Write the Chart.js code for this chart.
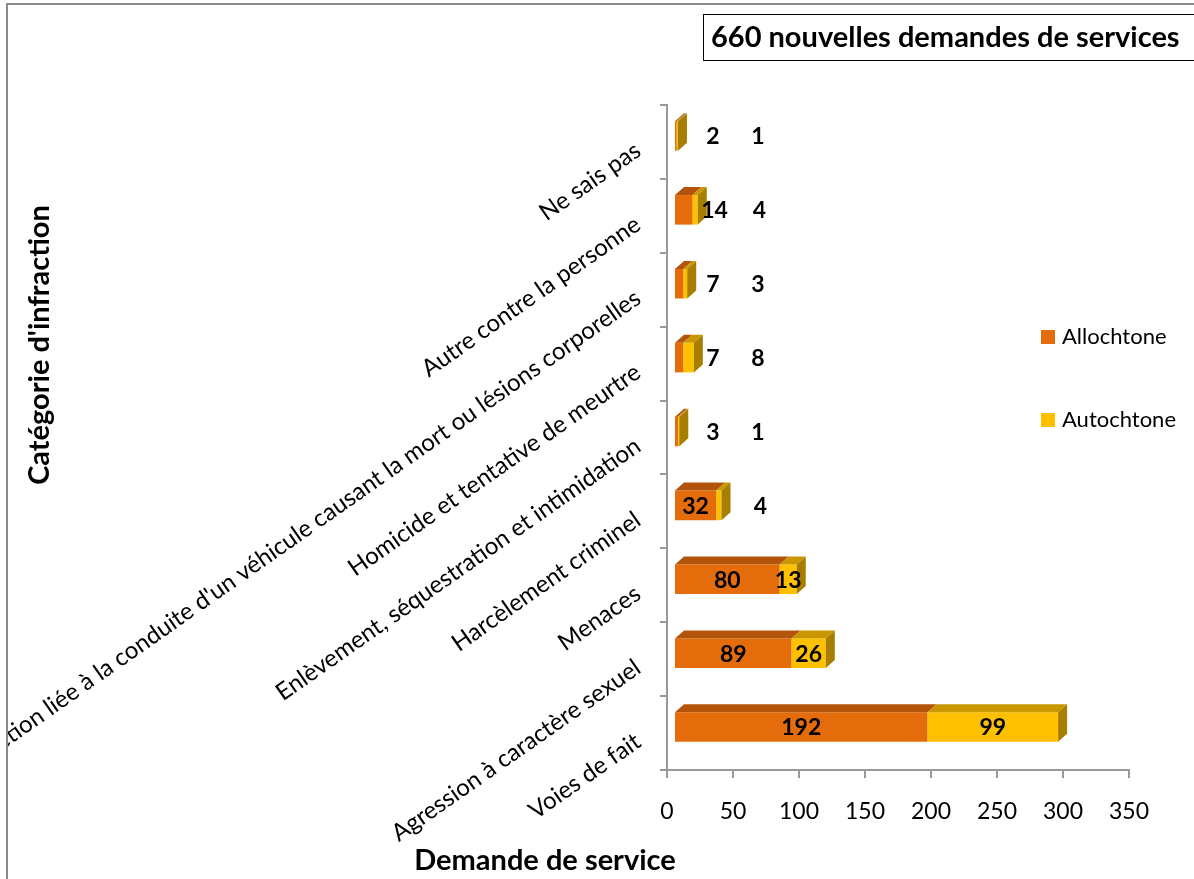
<!DOCTYPE html>
<html>
<head>
<meta charset="utf-8">
<script src="https://cdn.jsdelivr.net/npm/chart.js@4.4.1/dist/chart.umd.min.js"></script>
<style>
  html, body { margin: 0; padding: 0; background: #fff; overflow: hidden; }
  #frame { position: absolute; left: 6px; top: 3px; width: 1300px; height: 1000px; border: 2px solid #8c8c8c; box-sizing: border-box; z-index: 2; pointer-events: none; }
  #wrap { position: absolute; left: 0; top: 0; width: 1194px; height: 879px; clip-path: inset(0 0 0 8px); }
</style>
</head>
<body>
<div id="wrap"><canvas id="chart"></canvas></div>
<div id="frame"></div>
<script>
// categories, top to bottom
const categories = [
  'Ne sais pas',
  'Autre contre la personne',
  "Infraction liée à la conduite d'un véhicule causant la mort ou lésions corporelles",
  'Homicide et tentative de meurtre',
  'Enlèvement, séquestration et intimidation',
  'Harcèlement criminel',
  'Menaces',
  'Agression à caractère sexuel',
  'Voies de fait'
];
const allochtone = [2, 14, 7, 7, 3, 32, 80, 89, 192];
const autochtone = [1, 4, 3, 8, 1, 4, 13, 26, 99];
const seriesNames = ['Allochtone', 'Autochtone'];
const xTicks = [0, 50, 100, 150, 200, 250, 300, 350];
const boxTitle = '660 nouvelles demandes de services';
const yTitle = "Catégorie d'infraction";
const xTitle = 'Demande de service';

const FONT = 'Lato, "Open Sans", sans-serif';
const front = ['#E46C0A', '#FFC000'];
const topFace = ['#B4530A', '#C99700'];
const sideFace = ['#A44E08', '#A77E00'];
const depth = { dx: 9, dy: 8 };
const shift = { x: 7, y: -6 };

// 3D faces + data labels
const bars3d = {
  id: 'bars3d',
  beforeDatasetsDraw(chart) {
    chart.ctx.save();
    chart.ctx.translate(shift.x, shift.y);
  },
  afterDatasetsDraw(chart) {
    const ctx = chart.ctx;
    const metas = [chart.getDatasetMeta(0), chart.getDatasetMeta(1)];
    categories.forEach((c, i) => {
      metas.forEach((m, d) => {
        const el = m.data[i];
        const h = el.height;
        const x0 = Math.min(el.base, el.x), x1 = Math.max(el.base, el.x);
        const yTop = el.y - h / 2, yBot = el.y + h / 2;
        ctx.fillStyle = topFace[d];
        ctx.beginPath();
        ctx.moveTo(x0, yTop);
        ctx.lineTo(x0 + depth.dx, yTop - depth.dy);
        ctx.lineTo(x1 + depth.dx, yTop - depth.dy);
        ctx.lineTo(x1, yTop);
        ctx.closePath();
        ctx.fill();
        if (d === 1) {
          ctx.fillStyle = sideFace[d];
          ctx.beginPath();
          ctx.moveTo(x1, yTop);
          ctx.lineTo(x1 + depth.dx, yTop - depth.dy);
          ctx.lineTo(x1 + depth.dx, yBot - depth.dy);
          ctx.lineTo(x1, yBot);
          ctx.closePath();
          ctx.fill();
        }
      });
    });
    ctx.font = 'bold 23px ' + FONT;
    ctx.fillStyle = '#000';
    ctx.textAlign = 'center';
    ctx.textBaseline = 'middle';
    const series = [allochtone, autochtone];
    categories.forEach((c, i) => {
      let prevX = null;
      metas.forEach((m, d) => {
        const el = m.data[i];
        const x0 = Math.min(el.base, el.x), x1 = Math.max(el.base, el.x);
        const w = x1 - x0;
        const txt = String(series[d][i]);
        const tw = ctx.measureText(txt).width;
        const inside = d === 0 ? w >= tw + 4 : (w >= 14 && w >= tw * 0.6);
        let x;
        if (inside) {
          x = (x0 + x1) / 2;
        } else if (d === 0) {
          x = Math.max(x1 + 22, metas[0].data[i].base + 38);
        } else {
          x = Math.max(x1 + depth.dx + 30, (prevX || 0) + 45);
        }
        ctx.fillText(txt, x, el.y + 1);
        prevX = x;
      });
    });
    ctx.restore();
  },
  afterDraw(chart) {
    const ctx = chart.ctx;
    ctx.save();
    // title box
    ctx.strokeStyle = '#000';
    ctx.lineWidth = 1;
    ctx.strokeRect(703.5, 14.5, 600, 46);
    ctx.fillStyle = '#000';
    ctx.font = 'bold 29px ' + FONT;
    ctx.textAlign = 'left';
    ctx.textBaseline = 'middle';
    ctx.fillText(boxTitle, 711, 38);
    // axis titles
    ctx.font = 'bold 29px ' + FONT;
    ctx.textAlign = 'center';
    ctx.fillText(xTitle, 545, 861);
    ctx.save();
    ctx.translate(40, 345);
    ctx.rotate(-Math.PI / 2);
    ctx.fillText(yTitle, 0, 0);
    ctx.restore();
    // legend
    ctx.font = '22px ' + FONT;
    ctx.textAlign = 'left';
    const legendY = [337, 420];
    seriesNames.forEach((n, d) => {
      ctx.fillStyle = front[d];
      ctx.fillRect(1041, legendY[d] - 7, 14, 14);
      ctx.fillStyle = '#000';
      ctx.fillText(n, 1062, legendY[d]);
    });
    ctx.restore();
  }
};

new Chart(document.getElementById('chart'), {
  type: 'bar',
  data: {
    labels: categories,
    datasets: [
      { label: seriesNames[0], data: allochtone, backgroundColor: front[0], categoryPercentage: 0.8, barPercentage: 0.5 },
      { label: seriesNames[1], data: autochtone, backgroundColor: front[1], categoryPercentage: 0.8, barPercentage: 0.5 }
    ]
  },
  options: {
    indexAxis: 'y',
    responsive: true,
    maintainAspectRatio: false,
    animation: false,
    layout: { padding: { left: 0, top: 105, right: 65, bottom: 0 } },
    plugins: {
      legend: { display: false },
      tooltip: { enabled: false }
    },
    scales: {
      x: {
        stacked: true,
        min: 0,
        max: 350,
        afterBuildTicks: (s) => { s.ticks = xTicks.map(v => ({ value: v })); },
        afterFit: (s) => { s.height = 109; },
        grid: { drawOnChartArea: false, color: '#999', tickLength: 8, lineWidth: 2 },
        border: { color: '#999', width: 2 },
        ticks: { color: '#000', font: { family: FONT, size: 23 }, padding: 20 }
      },
      y: {
        stacked: true,
        afterFit: (s) => { s.width = 667; },
        grid: { drawOnChartArea: false, color: '#999', tickLength: 7, lineWidth: 2, offset: true },
        border: { color: '#999', width: 2 },
        ticks: { color: '#000', font: { family: FONT, size: 24 }, minRotation: 35, maxRotation: 35, padding: 22, labelOffset: 6, autoSkip: false }
      }
    }
  },
  plugins: [bars3d]
});
</script>
</body>
</html>
